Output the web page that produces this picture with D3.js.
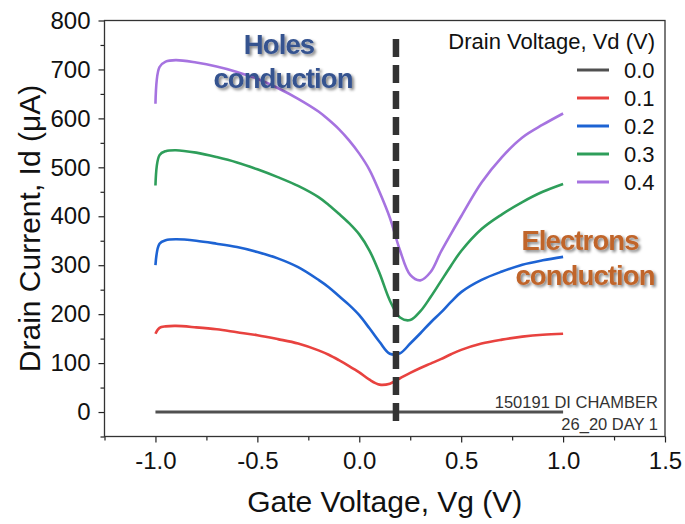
<!DOCTYPE html>
<html>
<head>
<meta charset="utf-8">
<script src="https://cdn.jsdelivr.net/npm/d3@7"></script>
<style>
  html, body { margin: 0; padding: 0; background: #fff; }
  svg { display: block; }
  text { font-family: "Liberation Sans", Arial, sans-serif; }
</style>
</head>
<body>
<svg id="chart" width="685" height="524"></svg>
<script>
// Gate voltage sweep (V)
const gateVoltage = [-1.0, -0.98, -0.95, -0.9, -0.8, -0.7, -0.6, -0.5, -0.4, -0.3, -0.2, -0.15, -0.1, -0.05,
  0.0, 0.05, 0.1, 0.15, 0.2, 0.25, 0.3, 0.35, 0.4, 0.45, 0.5, 0.6, 0.7, 0.8, 0.9, 1.0];

// Drain current (µA) for each drain voltage
const idVd00 = gateVoltage.map(() => 0);
const idVd01 = [160, 172, 175, 176, 173, 169, 163, 157, 149, 140, 126, 117, 106, 94,
  81, 66, 56, 58, 69, 80, 90, 99, 108, 118, 127, 140, 148, 154, 158, 160];
const idVd02 = [300, 344, 351, 353, 350, 344, 337, 327, 314, 296, 270, 255, 237, 219,
  198, 171, 143, 119, 120, 140, 161, 183, 203, 225, 245, 270, 287, 301, 310, 317];
const idVd03 = [463, 525, 533, 535, 530, 521, 510, 496, 480, 462, 439, 423, 405, 386,
  363, 330, 283, 228, 193, 188, 206, 235, 267, 299, 329, 374, 404, 429, 450, 466];
const idVd04 = [630, 705, 716, 719, 714, 706, 695, 681, 662, 640, 614, 597, 578, 555,
  528, 495, 449, 397, 330, 280, 269, 286, 327, 364, 400, 469, 521, 561, 587, 610];

const drainVoltages = ["0.0", "0.1", "0.2", "0.3", "0.4"];
const seriesColors = ["#505050", "#e8423f", "#1d63d3", "#2e9e5a", "#a673e0"];
const seriesCurrents = [idVd00, idVd01, idVd02, idVd03, idVd04];

const xTicks = [-1.0, -0.5, 0.0, 0.5, 1.0, 1.5];
const yTicks = [0, 100, 200, 300, 400, 500, 600, 700, 800];
const dividerVg = 0.18;

const svg = d3.select("#chart");
const plotLeft = 104.5, plotRight = 665, plotTop = 20.5, plotBottom = 436.5;

const x = d3.scaleLinear().domain([-1.25, 1.5]).range([plotLeft, plotRight]);
const y = d3.scaleLinear().domain([-50, 800]).range([plotBottom, plotTop]);

// soft drop shadow for the annotations
const defs = svg.append("defs");
const f = defs.append("filter").attr("id", "shadow")
  .attr("x", "-10%").attr("y", "-20%").attr("width", "130%").attr("height", "150%");
f.append("feGaussianBlur").attr("in", "SourceAlpha").attr("stdDeviation", 1.6).attr("result", "b");
f.append("feOffset").attr("in", "b").attr("dx", 1.5).attr("dy", 1.5).attr("result", "o");
f.append("feComponentTransfer").attr("in", "o").attr("result", "s")
  .append("feFuncA").attr("type", "linear").attr("slope", 0.5);
const fm = f.append("feMerge");
fm.append("feMergeNode").attr("in", "s");
fm.append("feMergeNode").attr("in", "SourceGraphic");

// axes (plain hyphen for negative labels)
const fmt1 = d => d.toFixed(1);
const xAxis = d3.axisBottom(x).tickValues(xTicks).tickFormat(fmt1).tickSize(6).tickPadding(9);
const xMinor = d3.axisBottom(x).tickValues(d3.range(-1.25, 1.5, 0.5)).tickFormat("").tickSize(4);
const yAxis = d3.axisLeft(y).tickValues(yTicks).tickFormat(d => String(d)).tickSize(6).tickPadding(8);
const yMinor = d3.axisLeft(y).tickValues(d3.range(-50, 800, 100)).tickFormat("").tickSize(4);

function styleAxis(g) {
  g.select(".domain").remove();
  g.selectAll("line").attr("stroke", "#222").attr("stroke-width", 1.2);
  g.selectAll("text").attr("fill", "#111").style("font-size", "24px")
    .style("font-family", '"Liberation Sans", Arial, sans-serif');
}

svg.append("g").attr("transform", `translate(0,${plotBottom})`).call(xAxis).call(styleAxis);
svg.append("g").attr("transform", `translate(0,${plotBottom})`).call(xMinor).call(styleAxis);
svg.append("g").attr("transform", `translate(${plotLeft},0)`).call(yAxis).call(styleAxis);
svg.append("g").attr("transform", `translate(${plotLeft},0)`).call(yMinor).call(styleAxis);

// frame
svg.append("rect").attr("x", plotLeft).attr("y", plotTop)
  .attr("width", plotRight - plotLeft).attr("height", plotBottom - plotTop)
  .attr("fill", "none").attr("stroke", "#333").attr("stroke-width", 1.3);

// axis titles
svg.append("text").attr("x", (plotLeft + plotRight) / 2).attr("y", 512)
  .attr("text-anchor", "middle").style("font-size", "30px").attr("fill", "#111")
  .text("Gate Voltage, Vg (V)");
svg.append("text").attr("transform", `translate(40,${(plotTop + plotBottom) / 2}) rotate(-90)`)
  .attr("text-anchor", "middle").style("font-size", "30px").attr("fill", "#111")
  .text("Drain Current, Id (μA)");

// transfer curves
const line = d3.line()
  .x((d, i) => x(gateVoltage[i]))
  .y(d => y(d))
  .curve(d3.curveCatmullRom.alpha(0.5));

seriesCurrents.forEach((vals, k) => {
  svg.append("path").datum(vals)
    .attr("d", line)
    .attr("fill", "none")
    .attr("stroke", seriesColors[k])
    .attr("stroke-width", k === 0 ? 3 : 2.6)
    .attr("stroke-linejoin", "round");
});

// dirac-point divider
svg.append("line")
  .attr("x1", x(dividerVg)).attr("x2", x(dividerVg))
  .attr("y1", y(762)).attr("y2", y(-23))
  .attr("stroke", "#333").attr("stroke-width", 6.5)
  .attr("stroke-dasharray", "18 8");

// legend
const lg = svg.append("g");
lg.append("text").attr("x", 655).attr("y", 49).attr("text-anchor", "end")
  .style("font-size", "22px").attr("fill", "#111").text("Drain Voltage, Vd (V)");
drainVoltages.forEach((v, i) => {
  const cy = 70 + i * 28;
  lg.append("line").attr("x1", 577).attr("x2", 609).attr("y1", cy).attr("y2", cy)
    .attr("stroke", seriesColors[i]).attr("stroke-width", 3);
  lg.append("text").attr("x", 624).attr("y", cy + 8)
    .style("font-size", "22px").attr("fill", "#111").text(v);
});

// conduction regime annotations
const ann = svg.append("g").attr("filter", "url(#shadow)").style("font-weight", "bold");
const annStyle = sel => sel.attr("text-anchor", "middle")
  .style("font-size", "27.5px").style("letter-spacing", "-0.9px");
ann.append("text").attr("x", 279).attr("y", 54).call(annStyle).attr("fill", "#34528f").text("Holes");
ann.append("text").attr("x", 283).attr("y", 88).call(annStyle).attr("fill", "#34528f").text("conduction");
ann.append("text").attr("x", 580).attr("y", 250).call(annStyle).attr("fill", "#c0652c").text("Electrons");
ann.append("text").attr("x", 585).attr("y", 285).call(annStyle).attr("fill", "#c0652c").text("conduction");

// sample tag
svg.append("text").attr("x", 658).attr("y", 408).attr("text-anchor", "end")
  .style("font-size", "16.5px").attr("fill", "#333").text("150191 DI CHAMBER");
svg.append("text").attr("x", 658).attr("y", 430).attr("text-anchor", "end")
  .style("font-size", "16.5px").attr("fill", "#333").text("26_20 DAY 1");
</script>
</body>
</html>
